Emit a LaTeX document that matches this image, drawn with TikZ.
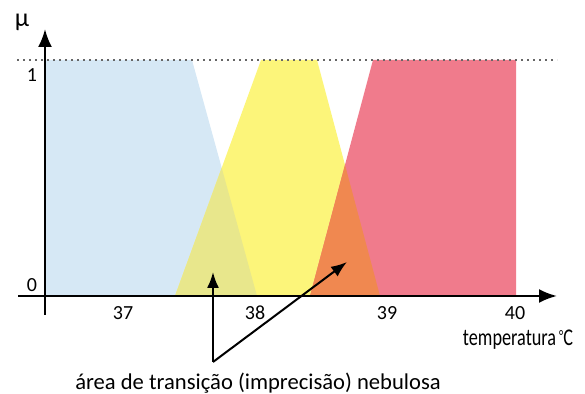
\documentclass[tikz,border=0pt]{standalone}
\usepackage{fontspec}
\setmainfont{Carlito}
\usetikzlibrary{arrows.meta}
\definecolor{cblue}{RGB}{214,232,245}
\definecolor{cyellow}{RGB}{252,245,122}
\definecolor{cred}{RGB}{240,123,140}
\definecolor{cgreen}{RGB}{232,231,140}
\definecolor{corange}{RGB}{240,136,80}
\tikzset{
  axis/.style={line width=1.2pt,-{Latex[length=9pt,width=7pt]}},
  pointer/.style={line width=1pt,-{Latex[length=8pt,width=6pt]}},
  lbl/.style={font=\fontsize{10}{12}\selectfont,inner sep=0pt},
}
\begin{document}
\begin{tikzpicture}[x=0.5pt,y=-0.5pt]
\useasboundingbox (0,0) rectangle (585,394);
% membership sets
\def\blueset{(45,60) -- (192,60) -- (257,296) -- (45,296) -- cycle}
\def\yellowset{(175,296) -- (261,60) -- (317,60) -- (380,296) -- cycle}
\def\redset{(310,296) -- (373,60) -- (516,60) -- (516,296) -- cycle}
\fill[cblue] \blueset;
\fill[cyellow] \yellowset;
\fill[cred] \redset;
\begin{scope}
  \clip \yellowset;
  \fill[cgreen] \blueset;
  \fill[corange] \redset;
\end{scope}
% dotted level 1
\coordinate (d1) at (17,60);
\coordinate (d2) at (557,60);
\draw[gray!80!black, dotted, line width=1pt] (d1) -- (d2);
% axes
\coordinate (xs) at (18,296);
\coordinate (xe) at (557,296);
\coordinate (ys) at (45,315);
\coordinate (ye) at (45,29);
\draw[axis] (xs) -- (xe);
\draw[axis] (ys) -- (ye);
% labels
\node[font=\fontsize{13}{14}\selectfont,inner sep=0pt] (mu) at (22,22) {μ};
\node[lbl] (one) at (32,75) {1};
\node[lbl] (zero) at (32,285) {0};
\node[lbl] (t37) at (123,313) {37};
\node[lbl] (t38) at (255,313) {38};
\node[lbl] (t39) at (387,313) {39};
\node[lbl] (t40) at (515,313) {40};
\node[lbl,font=\fontsize{12}{14}\selectfont] (temp) at (518,340) {\scalebox{0.76}[1]{temperatura\,\raisebox{0.35ex}{\footnotesize °}C}};
\node[lbl,font=\fontsize{11.3}{13}\selectfont] (note) at (258,383) {área de transição (imprecisão) nebulosa};
% pointers
\coordinate (v) at (213,362);
\coordinate (p1) at (213,272);
\coordinate (p2) at (347,262);
\draw[pointer] (v) -- (p1);
\draw[pointer] (v) -- (p2);
\end{tikzpicture}
\end{document}
